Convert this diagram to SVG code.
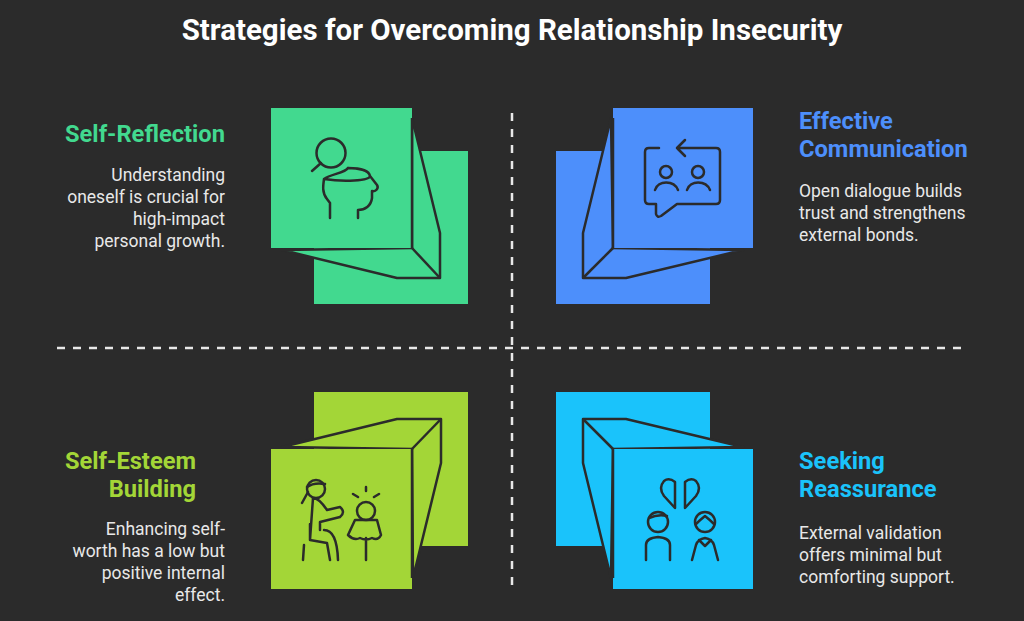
<svg xmlns="http://www.w3.org/2000/svg" width="1024" height="621" viewBox="0 0 1024 621">
<style>
text{font-family:Roboto,"Liberation Sans",sans-serif}
.t{font-size:23.7px;font-weight:bold}
.b{font-size:17.5px;fill:#e8e8e8}
.o{stroke:#2b2b2b;stroke-width:2.5;stroke-linejoin:round}
.i{fill:none;stroke:#2b2b2b;stroke-width:2.5;stroke-linecap:round;stroke-linejoin:round}
.d{stroke:#e8e8e8;stroke-width:2.5;stroke-dasharray:8,8;fill:none}
</style>
<rect width="1024" height="621" fill="#2b2b2b"/>
<text x="512" y="40" text-anchor="middle" font-size="29.5" font-weight="bold" fill="#fff">Strategies for Overcoming Relationship Insecurity</text>
<g id="connectors">
<line class="d" x1="512" y1="113" x2="512" y2="585"/>
<line class="d" x1="57" y1="348" x2="968" y2="348"/>
</g>
<g id="self-reflection">
<rect x="314" y="151" width="154" height="153" fill="#42d98f"/>
<polygon class="o" fill="#42d98f" points="412,118 440,233 440,278 397,278 282,250 412,248"/>
<line class="o" x1="412" y1="248" x2="440" y2="278"/>
<rect x="271" y="108" width="141" height="140" fill="#42d98f"/>
<line class="o" x1="412" y1="118" x2="412" y2="248"/>
<circle class="i" cx="331" cy="153" r="14.5"/>
<path class="i" d="M321,163 L312,171 M348,168 C358,168 369,170 370,176 C370,181 343,182 324,179 C323,186 322,193 327,199 L330,203 L330,218 M324,179 C331,174 345,173 348,168 M370,176 L377,185 C379,188 376,192 372,191 L372,198 C371,206 365,210 358,210 L358,218"/>
<text class="t" x="225" y="142" text-anchor="end" fill="#42d98f">Self-Reflection</text>
<text class="b" text-anchor="end"><tspan x="225" y="181">Understanding</tspan><tspan x="225" y="203">oneself is crucial for</tspan><tspan x="225" y="225">high-impact</tspan><tspan x="225" y="247">personal growth.</tspan></text>
</g>
<g id="effective-communication">
<rect x="556" y="151" width="154" height="153" fill="#4d8ffb"/>
<polygon class="o" fill="#4d8ffb" points="611,118 583,233 583,278 626,278 743,250 613,248"/>
<line class="o" x1="613" y1="248" x2="583" y2="278"/>
<rect x="613" y="108" width="140" height="140" fill="#4d8ffb"/>
<line class="o" x1="613" y1="118" x2="613" y2="248"/>
<path class="i" d="M659,148 L649,148 Q645,148 645,152 L645,200 Q645,204 649,204 L656,204 L656,214 Q657,218 661,216 L677,204 L716,204 Q720,204 720,200 L720,152 Q720,148 716,148 L677,148 M685,140 L677,148 L685,156"/>
<circle class="i" cx="666" cy="172" r="6"/><path class="i" d="M655,190 C658,180 674,180 678,190"/>
<circle class="i" cx="698" cy="172" r="6"/><path class="i" d="M687,190 C690,180 706,180 710,190"/>
<text class="t" x="799" y="129" fill="#4d8ffb">Effective</text>
<text class="t" x="799" y="157" fill="#4d8ffb">Communication</text>
<text class="b"><tspan x="799" y="197">Open dialogue builds</tspan><tspan x="799" y="219">trust and strengthens</tspan><tspan x="799" y="241">external bonds.</tspan></text>
</g>
<g id="self-esteem-building">
<rect x="314" y="392" width="154" height="154" fill="#a3d637"/>
<polygon class="o" fill="#a3d637" points="282,447 397,419 441,419 441,463 413,578 412,449"/>
<line class="o" x1="412" y1="449" x2="441" y2="419"/>
<rect x="271" y="449" width="141" height="140" fill="#a3d637"/>
<line class="o" x1="412" y1="449" x2="412" y2="578"/>
<circle class="i" cx="316" cy="489" r="9"/>
<path class="i" d="M307,487 Q314,482 325,484 M308,492 L302,503 M313,498 L310,540 L327,543 L330,560 M310,524 L310,540 M313,498 Q319,498 327,510 L340,507 Q346,512 340,517 L320,522 L320,530 M304,545 L303,560 M324,530 Q337,530 338,560"/>
<circle class="i" cx="366" cy="511" r="9"/>
<path class="i" d="M353,494 L358,497 M366,487 L366,491 M379,494 L374,497 M355,520 L377,520 L381,535 Q378,541 372,538 Q366,541 360,538 Q354,541 348,535 Z M366,538 L366,560"/>
<text class="t" x="196" y="469" text-anchor="end" fill="#a3d637">Self-Esteem</text>
<text class="t" x="196" y="497" text-anchor="end" fill="#a3d637">Building</text>
<text class="b" text-anchor="end"><tspan x="225" y="535">Enhancing self-</tspan><tspan x="225" y="557">worth has a low but</tspan><tspan x="225" y="579">positive internal</tspan><tspan x="225" y="601">effect.</tspan></text>
</g>
<g id="seeking-reassurance">
<rect x="556" y="392" width="154" height="154" fill="#1ac3fb"/>
<polygon class="o" fill="#1ac3fb" points="743,447 626,419 583,419 583,463 611,578 613,449"/>
<line class="o" x1="613" y1="449" x2="583" y2="419"/>
<rect x="613" y="449" width="140" height="140" fill="#1ac3fb"/>
<line class="o" x1="613" y1="449" x2="613" y2="578"/>
<path class="i" d="M675,508 L664,496 Q658,488 664,481 Q669,477 675,482 Z M685,508 L696,496 Q702,488 696,481 Q691,477 685,482 Z"/>
<circle class="i" cx="658" cy="522" r="10"/><path class="i" d="M649,518 Q658,514 667,516"/>
<path class="i" d="M646,560 L646,545 Q646,538 658,537 Q670,538 670,545 L670,560"/>
<circle class="i" cx="705" cy="522" r="10"/><path class="i" d="M696,524 Q700,520 705,516 Q710,520 714,524"/>
<path class="i" d="M692,560 L696,545 Q698,539 705,538 Q712,539 714,545 L718,560 M699,540 L705,546 L711,540"/>
<text class="t" x="799" y="469" fill="#1ac3fb">Seeking</text>
<text class="t" x="799" y="497" fill="#1ac3fb">Reassurance</text>
<text class="b"><tspan x="799" y="539">External validation</tspan><tspan x="799" y="561">offers minimal but</tspan><tspan x="799" y="583">comforting support.</tspan></text>
</g>
</svg>
